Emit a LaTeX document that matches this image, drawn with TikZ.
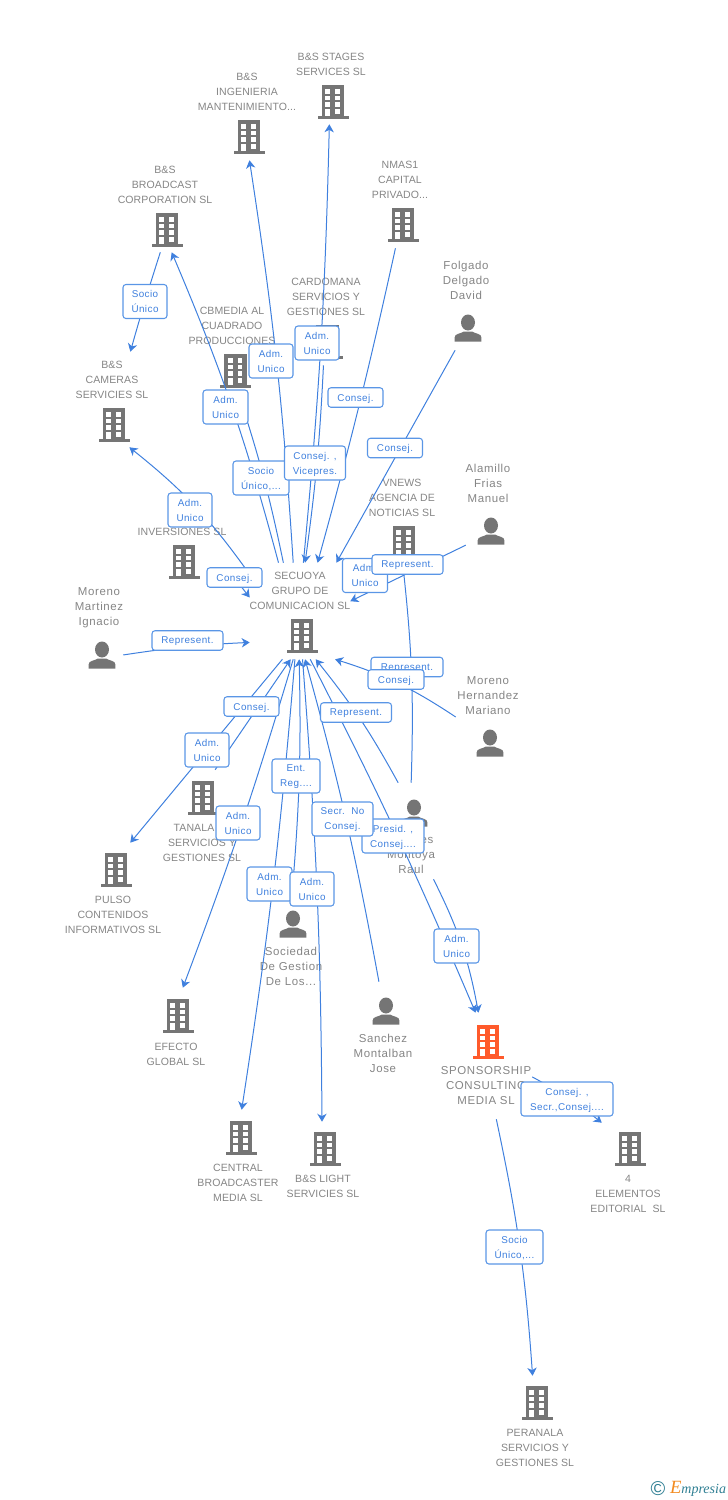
\documentclass[tikz,border=0pt]{standalone}
\usepackage{fontspec}
\usetikzlibrary{arrows.meta}
\setmainfont{Liberation Sans}
\newfontfamily\logofont{Liberation Serif}
\newfontfamily\namefont[LetterSpace=0.8]{Liberation Sans}
\newfontfamily\personfont[LetterSpace=5.5]{Liberation Sans}
\newfontfamily\tagfont[LetterSpace=4.5]{Liberation Sans}
\definecolor{iconGray}{HTML}{757575}
\definecolor{iconOrange}{HTML}{FF5A2B}
\definecolor{nameGray}{HTML}{858585}
\definecolor{linkBlue}{HTML}{3F80DE}
\definecolor{tagBlue}{HTML}{5A96E6}
\definecolor{logoTeal}{HTML}{2F7F93}
\definecolor{logoOrange}{HTML}{F28A1E}
\tikzset{
  hubBox/.style 2 args={rectangle,inner sep=0pt,minimum width=#1*0.75pt,minimum height=#2*0.75pt},
  hub/.style={hubBox={100}{94}},
  entity/.style={inner sep=0pt,yshift=-0.75pt,align=center,text=nameGray,font=\namefont\fontsize{7.9}{11.25}\selectfont},
  person/.style={inner sep=0pt,align=center,text=nameGray,font=\personfont\fontsize{8.6}{11.25}\selectfont},
  link/.style={draw=linkBlue,line width=0.75pt,-{Stealth[length=6pt,width=7pt,inset=1.8pt]}},
  tag/.style={draw=tagBlue,line width=0.8pt,fill=white,rounded corners=2.2pt,inner sep=0pt,align=center,text depth=0pt,
    text=linkBlue,font=\tagfont\fontsize{7.4}{11.25}\selectfont},
  tagOne/.style={tag,minimum width=#1*0.75pt,minimum height=19.5*0.75pt},
  tagTwo/.style={tag,minimum width=#1*0.75pt,minimum height=34*0.75pt},
  pics/bldg/.style={code={
    \fill[#1] (-11.3,-17) rectangle (11.3,15);
    \fill[#1] (-15.5,14) rectangle (15.5,17);
    \foreach \wy in {-13,-6.3,0.3} {
      \fill[white] (-7.6,\wy) rectangle (-2.9,\wy+4.7);
      \fill[white] (2,\wy) rectangle (6.7,\wy+4.7);
    }
    \fill[white] (2,7) rectangle (6.7,11.7);
    \fill[white] (-7.6,7) rectangle (-2.9,14);
  }},
  pics/bldg/.default=iconGray,
  pics/user/.style={code={
    \fill[iconGray] (0,-5.5) ellipse [x radius=7,y radius=8];
    \fill[iconGray] (-13.4,13.5) -- (-13.4,9.5) .. controls (-13.4,5.5) and (-8,6) .. (-4,3.5)
      -- (4,3.5) .. controls (8,6) and (13.4,5.5) .. (13.4,9.5) -- (13.4,13.5) -- cycle;
  }}
}
\begin{document}
\begin{tikzpicture}[x=0.75pt,y=-0.75pt]
  \useasboundingbox (0,0) rectangle (728,1500);
  \draw
    (331,77) node[hub] (stages){}
    (247,113) node[hub] (ingenieria){}
    (166,206) node[hubBox={100}{92}] (broadcast){}
    (401,203) node[hubBox={100}{90}] (nmas){}
    (466,303) node[hub] (folgado){}
    (326,317) node[hubBox={100}{96}] (cardomana){}
    (233,352) node[hubBox={100}{96}] (cbmedia){}
    (112,399.5) node[hubBox={100}{95}] (cameras){}
    (403,520) node[hubBox={100}{92}] (vnews){}
    (488,505) node[hubBox={44}{90}] (alamillo){}
    (183,555) node[hubBox={100}{70}] (inversiones){}
    (300,611) node[hubBox={100}{96}] (secuoya){}
    (100,630) node[hubBox={46}{80}] (martinez){}
    (488,717) node[hubBox={64}{80}] (hernandez){}
    (412,831) node[hubBox={100}{96}] (raul){}
    (204,818) node[hubBox={100}{96}] (tanala){}
    (114,890) node[hub] (pulso){}
    (292,940) node[hubBox={100}{90}] (sociedad){}
    (177,1035) node[hub] (efecto){}
    (384,1030) node[hubBox={100}{96}] (sanchez){}
    (485,1066) node[hubBox={94}{106}] (sponsorship){}
    (240,1157) node[hub] (central){}
    (324,1160) node[hubBox={100}{76}] (light){}
    (628,1170) node[hub] (elementos){}
    (535,1422) node[hubBox={100}{92}] (peranala){};

  \pic at (333,102) {bldg};
  \pic at (249,137) {bldg};
  \pic at (167,230) {bldg};
  \pic at (403,225) {bldg};
  \pic at (327.5,342) {bldg};
  \pic at (235.5,371) {bldg};
  \pic at (114,425) {bldg};
  \pic at (404,543) {bldg};
  \pic at (184,562) {bldg};
  \pic at (302,636) {bldg};
  \pic at (203,798) {bldg};
  \pic at (116,870) {bldg};
  \pic at (178,1016) {bldg};
  \pic at (241,1138) {bldg};
  \pic at (325,1149) {bldg};
  \pic at (488,1042) {bldg=iconOrange};
  \pic at (630,1149) {bldg};
  \pic at (537,1403) {bldg};
  \pic at (468,328) {user};
  \pic at (491,531) {user};
  \pic at (102,655) {user};
  \pic at (490,743) {user};
  \pic at (414,813) {user};
  \pic at (293,924) {user};
  \pic at (386,1011) {user};

  \node[entity] (stagesName) at (331,63.5) {B\&S STAGES\\SERVICES SL};
  \node[entity] (ingenieriaName) at (247,91) {B\&S\\INGENIERIA\\MANTENIMIENTO...};
  \node[entity] (broadcastName) at (165,184) {B\&S\\BROADCAST\\CORPORATION SL};
  \node[entity] (nmasName) at (400,179) {NMAS1\\CAPITAL\\PRIVADO...};
  \node[person] (folgadoName) at (466,280) {Folgado\\Delgado\\David};
  \node[entity] (cardomanaName) at (326,296) {CARDOMANA\\SERVICIOS Y\\GESTIONES SL};
  \node[entity] (cbmediaName) at (232,325) {CBMEDIA AL\\CUADRADO\\PRODUCCIONES};
  \node[entity] (camerasName) at (112,379) {B\&S\\CAMERAS\\SERVICIES SL};
  \node[entity] (vnewsName) at (402,497) {VNEWS\\AGENCIA DE\\NOTICIAS SL};
  \node[person] (alamilloName) at (488,483) {Alamillo\\Frias\\Manuel};
  \node[entity] (inversionesName) at (182,531) {INVERSIONES SL};
  \node[entity] (secuoyaName) at (300,590) {SECUOYA\\GRUPO DE\\COMUNICACION SL};
  \node[person] (martinezName) at (99,608) {Moreno\\Martinez\\Ignacio};
  \node[person] (hernandezName) at (488,696) {Moreno\\Hernandez\\Mariano};
  \node[entity] (tanalaName) at (202,842) {TANALA\ \phantom{SL}\\SERVICIOS Y\\GESTIONES SL};
  \node[person] (raulName) at (411,855) {\phantom{Fuent}es\\Montoya\\Raul};
  \node[entity] (pulsoName) at (113,914) {PULSO\\CONTENIDOS\\INFORMATIVOS SL};
  \node[person] (sociedadName) at (291,966) {Sociedad\\De Gestion\\De Los...};
  \node[entity] (efectoName) at (176,1053.5) {EFECTO\\GLOBAL SL};
  \node[person] (sanchezName) at (383,1053) {Sanchez\\Montalban\\Jose};
  \node[person] (sponsorshipName) at (486,1086) {SPONSORSHIP\\CONSULTING\\MEDIA SL};
  \node[entity] (centralName) at (238,1182) {CENTRAL\\BROADCASTER\\MEDIA SL};
  \node[entity] (lightName) at (323,1185.5) {B\&S LIGHT\\SERVICIES SL};
  \node[entity] (elementosName) at (628,1193) {4\\ELEMENTOS\\EDITORIAL\ \ SL};
  \node[entity] (peranalaName) at (535,1447) {PERANALA\\SERVICIOS Y\\GESTIONES SL};

  \begin{scope}[link]
    \draw (broadcast.-97.4) to[bend right=1] (cameras.69.2);
    \draw (secuoya.114.6) to[bend right=4] (broadcast.-83.8);
    \draw (secuoya.109.5) to[bend right=3] (cbmedia.-81.7);
    \draw (secuoya.98.3) to[bend right=2.5] (ingenieria.-87.6);
    \draw (secuoya.86.4) to[bend right=2] (stages.-92.4);
    \draw (cardomana.-93.6) to[bend left=2.5] (secuoya.84);
    \draw (nmas.-97.6) to[bend left=1.5] (secuoya.70.5);
    \draw (folgado.-103.2) to (secuoya.53.9);
    \draw (alamillo.-119.4) to (secuoya.11.3);
    \draw (raul.91.2) to[bend right=4] (vnews.-90);
    \draw (hernandez.180) to[bend right=8] (secuoya.-54.7);
    \draw (martinez.-47.4) to[bend left=3] (secuoya.212.6);
    \draw (inversiones.-23.7) to (secuoya.165.4);
    \draw (secuoya.144.2) to[bend right=8] (cameras.-70.3);
    \draw (secuoya.-110.6) to (pulso.71.2);
    \draw (tanala.77.1) to (secuoya.-101.8);
    \draw (secuoya.-98.3) to[bend left=2] (efecto.83.9);
    \draw (secuoya.-96) to[bend left=2] (central.88.8);
    \draw (sociedad.90) to[bend right=3] (secuoya.-91.2);
    \draw (secuoya.-87.6) to[bend left=2] (light.93);
    \draw (sanchez.96) to[bend right=2.5] (secuoya.-84);
    \draw (raul.106.3) to[bend right=5] (secuoya.-72.6);
    \draw (secuoya.-78.2) to[bend left=2] (sponsorship.100.7);
    \draw (raul.-66.4) to[bend left=8] (sponsorship.97.5);
    \draw (sponsorship.-13.2) to[bend left=5] (elementos.119.9);
    \draw (sponsorship.-78.3) to[bend left=4] (peranala.93.7);
  \end{scope}

  \node[tagTwo=44] (socioCameras) at (145,301.5) {Socio\\Único};
  \node[tagTwo=45] (admBroadcast) at (225.5,407) {Adm.\\Unico};
  \node[tagTwo=44] (admIngenieria) at (271,361) {Adm.\\Unico};
  \node[tagTwo=44] (admStages) at (317,343) {Adm.\\Unico};
  \node[tagOne=55] (consejNmas) at (355.5,397.5) {Consej.};
  \node[tagOne=55] (consejFolgado) at (395,448) {Consej.};
  \node[tagTwo=56] (socioCbmedia) at (261,478) {Socio\\Único,...};
  \node[tagTwo=61] (consejCardomana) at (315,463) {Consej. ,\\Vicepres.};
  \node[tagTwo=44] (admCameras) at (190,510) {Adm.\\Unico};
  \node[tagOne=55] (consejInversiones) at (234.5,577.5) {Consej.};
  \node[tagTwo=45] (admVnews) at (365,575.5) {Adm.\\Unico};
  \node[tagOne=71] (repAlamillo) at (407.5,564.5) {Represent.};
  \node[tagOne=71] (repMartinez) at (187.5,640.5) {Represent.};
  \node[tagOne=72] (repVnews) at (407,667) {Represent.};
  \node[tagOne=56] (consejHernandez) at (396,679.5) {Consej.};
  \node[tagOne=55] (consejTanala) at (251.5,706.5) {Consej.};
  \node[tagOne=71] (repRaul) at (356,712.5) {Represent.};
  \node[tagTwo=44] (admPulso) at (207,750) {Adm.\\Unico};
  \node[tagTwo=48] (entSociedad) at (296,776) {Ent.\\Reg....};
  \node[tagTwo=44] (admEfecto) at (238,823) {Adm.\\Unico};
  \node[tagTwo=62] (presidSponsorship) at (393,836) {Presid. ,\\Consej....};
  \node[tagTwo=61] (secrSanchez) at (342.5,819) {Secr.\ \ No\\Consej.};
  \node[tagTwo=45] (admCentral) at (269.5,884) {Adm.\\Unico};
  \node[tagTwo=44] (admLight) at (312,889) {Adm.\\Unico};
  \node[tagTwo=45] (admRaul) at (456.5,946) {Adm.\\Unico};
  \node[tagTwo=92] (consejElementos) at (567,1099) {Consej. ,\\Secr.,Consej....};
  \node[tagTwo=57] (socioPeranala) at (514.5,1247) {Socio\\Único,...};

  \node[inner sep=0pt,text=logoTeal,font=\fontsize{15}{15}\selectfont] (logoMark) at (658,1489) {©};
  \node[inner sep=0pt,text=logoTeal,font=\logofont\itshape\fontsize{10.5}{12}\selectfont] (logoText) at (698,1489) {\textcolor{logoOrange}{\fontsize{14}{12}\selectfont E}mpresia};
\end{tikzpicture}
\end{document}
